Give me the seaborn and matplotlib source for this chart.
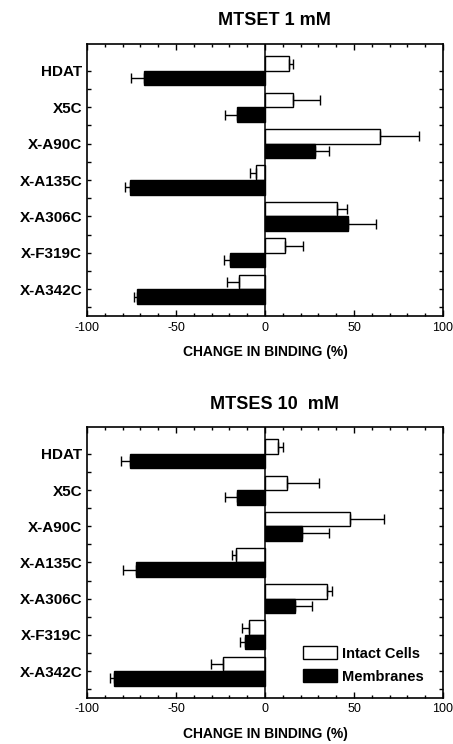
import numpy as np
import pandas as pd
import matplotlib
matplotlib.use("Agg")
import matplotlib.pyplot as plt
import seaborn as sns

constructs = ["HDAT", "X5C", "X-A90C", "X-A135C", "X-A306C", "X-F319C", "X-A342C"]
preps = ["Intact Cells", "Membranes"]

# MTSET 1 mM
mtset_intact = [13.3, 15.9, 64.7, -5.0, 40.7, 11.2, -14.6]
mtset_intact_err = [2.6, 14.9, 21.8, 3.4, 5.1, 9.9, 6.7]
mtset_memb = [-68.0, -16.0, 28.0, -76.0, 46.4, -19.8, -71.8]
mtset_memb_err = [7.5, 6.4, 7.7, 2.5, 16.2, 3.4, 2.0]

# MTSES 10 mM
mtses_intact = [7.3, 12.1, 47.7, -16.1, 34.8, -9.0, -23.6]
mtses_intact_err = [2.8, 18.2, 19.4, 2.2, 3.1, 4.1, 6.9]
mtses_memb = [-75.9, -15.7, 20.9, -72.7, 16.8, -11.4, -84.9]
mtses_memb_err = [5.2, 6.5, 15.2, 7.3, 9.7, 2.8, 2.0]

panels = [
    ("MTSET 1 mM", mtset_intact, mtset_intact_err, mtset_memb, mtset_memb_err),
    ("MTSES 10  mM", mtses_intact, mtses_intact_err, mtses_memb, mtses_memb_err),
]

sns.set_style("ticks")
plt.rcParams["font.family"] = ["Liberation Sans", "DejaVu Sans"]
plt.rcParams["axes.unicode_minus"] = False
for k in ["text.color", "axes.labelcolor", "xtick.color", "ytick.color"]:
    plt.rcParams[k] = "black"

fig = plt.figure(figsize=(4.53, 7.44), dpi=100)
ax_top = fig.add_axes([0.192, 0.575, 0.786, 0.366])
ax_bot = fig.add_axes([0.192, 0.062, 0.786, 0.364])
title_y = [0.973, 0.456]

for i, (ax, (title, intact, intact_err, memb, memb_err)) in enumerate(zip([ax_top, ax_bot], panels)):
    df = pd.DataFrame({
        "construct": constructs * 2,
        "change": intact + memb,
        "prep": [preps[0]] * len(constructs) + [preps[1]] * len(constructs),
    })
    sns.barplot(data=df, y="construct", x="change", hue="prep", orient="h",
                palette=["white", "black"], edgecolor="black", linewidth=1,
                width=0.8, errorbar=None, ax=ax, legend=(i == 1))

    # one-sided error bars
    for cont, errs in zip(ax.containers, [intact_err, memb_err]):
        for bar, e in zip(cont, errs):
            v = bar.get_width()
            yc = bar.get_y() + bar.get_height() / 2
            xerr = [[0], [e]] if v >= 0 else [[e], [0]]
            ax.errorbar(v, yc, xerr=xerr, fmt="none", ecolor="black",
                        elinewidth=1, capsize=3.3, capthick=1)

    ax.axvline(0, color="black", lw=1.1)
    ax.set_xlim(-100, 100)
    ax.set_xticks([-100, -50, 0, 50, 100])
    ax.set_xticks(np.arange(-100, 101, 10), minor=True)
    ax.set_yticks(np.arange(len(constructs)) + 0.5, minor=True)
    ax.tick_params(axis="x", which="both", direction="in", top=True, bottom=True,
                   labelsize=9, width=1)
    ax.tick_params(axis="x", which="major", length=4, pad=4)
    ax.tick_params(axis="x", which="minor", length=2.5)
    ax.tick_params(axis="y", which="both", direction="in", left=True, right=True,
                   length=3, width=1)
    for lab in ax.get_yticklabels():
        lab.set_fontweight("bold")
        lab.set_fontsize(11)
    ax.set_ylabel("")
    ax.set_xlabel("CHANGE IN BINDING (%)", fontsize=10, fontweight="bold", labelpad=8)
    for sp in ax.spines.values():
        sp.set_visible(True)
        sp.set_linewidth(1.2)
        sp.set_color("black")

    fig.text(0.605, title_y[i], title, ha="center", va="center",
             fontsize=13, fontweight="bold")

sns.move_legend(ax_bot, "lower right", bbox_to_anchor=(0.97, 0.02), frameon=False,
                title=None, fontsize=10.5, handlelength=2.3, handleheight=0.95,
                handletextpad=0.35, labelspacing=0.6, borderpad=0.1)
for t in ax_bot.get_legend().get_texts():
    t.set_fontweight("bold")

fig.savefig("out.png", dpi=100)
